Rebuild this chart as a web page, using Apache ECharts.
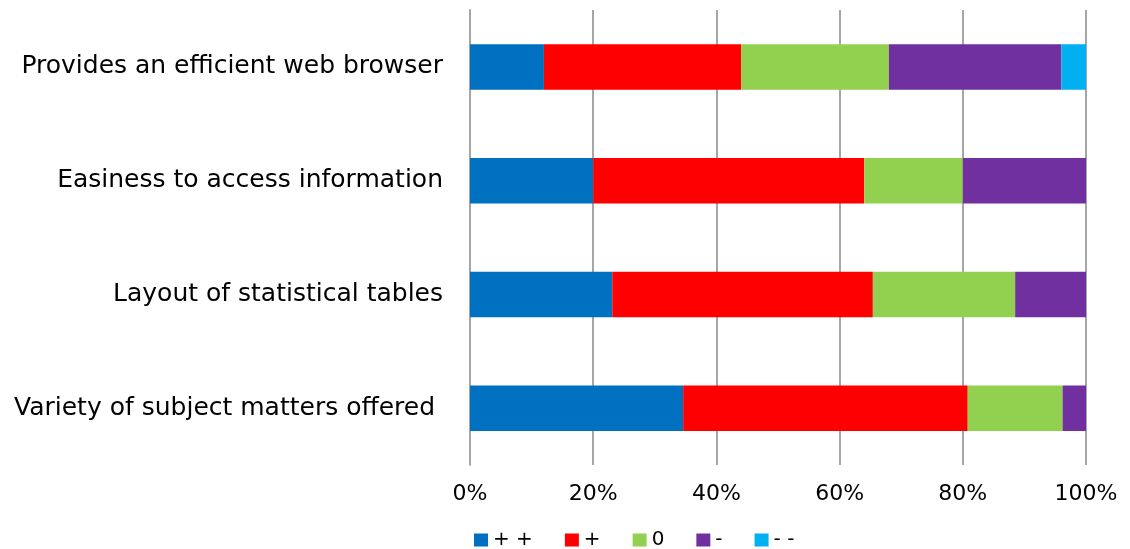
<!DOCTYPE html>
<html>
<head>
<meta charset="utf-8">
<script src="https://cdn.jsdelivr.net/npm/echarts@6/dist/echarts.min.js"></script>
<style>
  html, body { margin: 0; padding: 0; background: #fff; }
  #chart { width: 1130px; height: 549px; }
</style>
</head>
<body>
<div id="chart"></div>
<script>
// Survey items, listed bottom to top as drawn on the category axis
const categories = [
  'Variety of subject matters offered ',
  'Layout of statistical tables',
  'Easiness to access information',
  'Provides an efficient web browser'
];
const seriesNames = ['+ +', '+', '0', '-', '- -'];
// Share of answers (%) per rating, same order as categories
const veryPositive = [34.6, 23.1, 20, 12];
const positive     = [46.2, 42.3, 44, 32];
const neutral      = [15.4, 23.1, 16, 24];
const negative     = [3.8, 11.5, 20, 28];
const veryNegative = [0, 0, 0, 4];
const xTicks = [0, 20, 40, 60, 80, 100];

const colors = ['#0070C0', '#FF0000', '#92D050', '#7030A0', '#00B0F0'];
const values = [veryPositive, positive, neutral, negative, veryNegative];
const font = 'DejaVu Sans, Liberation Sans, Arial, sans-serif';

const chart = echarts.init(document.getElementById('chart'));
chart.setOption({
  animation: false,
  textStyle: { fontFamily: font },
  grid: { left: 470, right: 44, top: 10, bottom: 84, containLabel: false },
  legend: {
    top: 530,
    left: 474,
    padding: 0,
    itemWidth: 14,
    itemHeight: 13,
    itemGap: 32,
    icon: 'rect',
    textStyle: { fontSize: 20, color: '#000', fontFamily: font },
    data: seriesNames
  },
  xAxis: {
    type: 'value',
    min: xTicks[0],
    max: xTicks[xTicks.length - 1],
    interval: 20,
    axisLine: { show: false },
    axisTick: { show: false },
    splitLine: { show: true, lineStyle: { color: '#A6A6A6', width: 2 } },
    axisLabel: {
      fontSize: 22, color: '#000', margin: 18,
      formatter: v => v + '%'
    }
  },
  yAxis: {
    type: 'category',
    data: categories,
    axisLine: { show: true, lineStyle: { color: '#A6A6A6', width: 2 } },
    axisTick: { show: false },
    axisLabel: { fontSize: 25, color: '#000', margin: 27 }
  },
  series: seriesNames.map((name, i) => ({
    name: name,
    type: 'bar',
    stack: 'total',
    barWidth: '40%',
    itemStyle: { color: colors[i] },
    data: values[i]
  }))
});
</script>
</body>
</html>
